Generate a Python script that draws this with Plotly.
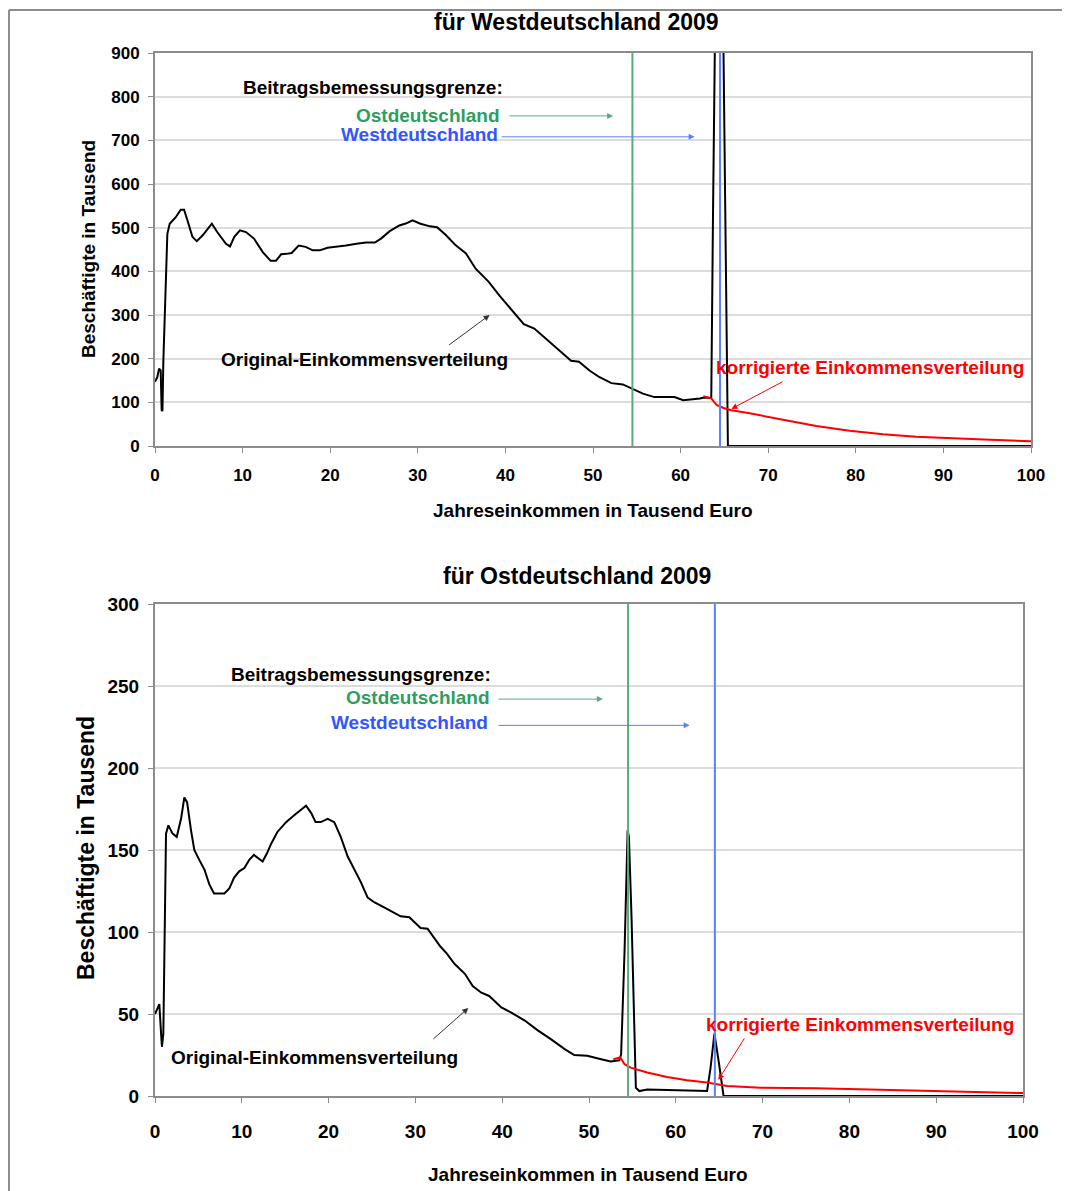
import plotly.graph_objects as go

# Westdeutschland 2009 (Beschäftigte in Tausend, Jahreseinkommen in Tausend Euro)
west_x = [0, 0.27, 0.46, 0.65, 0.76, 0.85, 0.95, 1.07, 1.22, 1.41, 1.68, 2.37, 2.94, 3.32, 3.7, 4.27,
          4.77, 5.42, 6.49, 7.1, 8.1, 8.56, 9.05, 9.7, 10.38, 11.3, 12.3, 13.2, 13.8, 14.4, 15.0, 15.6,
          16.4, 17.2, 18.0, 18.8, 19.7, 20.7, 21.8, 23.0, 24.1, 25.1, 25.8, 26.8, 27.9, 28.7, 29.4,
          30.3, 31.4, 32.2, 33.2, 34.3, 35.5, 36.6, 38.1, 39.3, 40.8, 42.1, 43.3, 44.6, 46.1, 47.5,
          48.4, 49.6, 50.7, 52.1, 53.4, 54.5, 55.7, 57.0, 58.4, 59.3, 60.3, 61.0, 62.2, 62.7, 63.3,
          63.5, 63.7, 63.9, 64.4, 64.9, 65.15, 65.4, 66.3, 100]
west_y = [147, 158, 177, 173, 82, 80, 192, 272, 402, 486, 509, 524, 541, 541, 517, 479,
          469, 482, 509, 490, 463, 457, 479, 494, 490, 475, 444, 424, 424, 439, 440, 442,
          459, 456, 448, 448, 454, 456, 459, 463, 466, 466, 475, 492, 505, 510, 517,
          509, 503, 501, 483, 460, 441, 406, 376, 345, 311, 279, 269, 246, 219, 195,
          193, 173, 158, 144, 141, 131, 120, 112, 111, 112, 105, 106, 109, 111, 109,
          110, 530, 900, 1800, 900, 450, 0, 0, 0]
west_korr_x = [62.6, 63.5, 64.1, 64.9, 65.8, 67.9, 71.7, 75.5, 79.3, 83.1, 86.9, 90.8, 94.6, 100]
west_korr_y = [114, 109, 94, 87, 82, 75, 60, 46, 35, 27, 21, 17.5, 15, 11]

# Ostdeutschland 2009
ost_x = [0, 0.5, 0.7, 0.8, 0.96, 1.07, 1.27, 1.54, 2.03, 2.5, 3.0, 3.38, 3.7, 4.15, 4.53, 5.1,
         5.7, 6.26, 6.8, 8.0, 8.56, 9.1, 9.7, 10.3, 10.86, 11.4, 11.9, 12.4, 12.9, 13.4, 14.1,
         15.1, 16.0, 16.8, 17.4, 18.0, 18.5, 19.1, 19.9, 20.65, 21.4, 22.2, 22.95, 23.7, 24.5,
         25.3, 26.4, 27.4, 28.3, 29.3, 29.9, 30.6, 31.4, 32.2, 32.9, 33.6, 34.5, 35.7, 36.6,
         37.6, 38.5, 39.9, 41.0, 42.6, 44.1, 45.6, 47.2, 48.3, 49.8, 51.4, 52.5, 53.5, 53.7,
         54.1, 54.45, 54.6, 54.9, 55.4, 55.8, 56.7, 59.8, 63.6, 64.0, 64.45, 65.0, 65.5, 66.4, 100]
ost_y = [50, 56, 38, 30, 38, 91, 160, 165, 160, 158, 169, 182, 179, 162, 150, 144,
         138, 129, 123.5, 123.5, 126.5, 133, 137, 139, 144, 147, 145, 143, 148, 154, 161,
         167, 171, 174.5, 177, 172.5, 167, 167, 169, 167, 158, 146, 138, 130.6, 121,
         118, 115, 112, 109.6, 109, 106, 102.4, 102, 96, 91, 87, 80.6, 74.5, 67,
         63, 61, 54, 51, 46, 40, 34.7, 28.6, 25, 24.5, 22.4, 21, 21.8, 25.5,
         89, 162, 158, 109, 5, 3, 4, 3.5, 3, 17, 38, 19, 0, 0, 0]
ost_korr_x = [52.8, 53.6, 54.1, 54.8, 56.7, 59.0, 61.3, 63.6, 65.9, 69.8, 76.2, 83.9, 91.6, 100]
ost_korr_y = [22.4, 23.5, 19.4, 17.3, 14.3, 11.6, 9.6, 8.2, 6.1, 5.1, 4.7, 3.7, 2.6, 1.8]

# Beitragsbemessungsgrenzen 2009 (Tausend Euro)
BBG_OST = 54.5
BBG_WEST = 64.5

x_ticks = list(range(0, 101, 10))
west_y_ticks = list(range(0, 901, 100))
ost_y_ticks = list(range(0, 301, 50))

# page body has an 8px margin, so the figure starts at (8, 8) of the window
OFF = 8
W, H = 1070 - OFF, 1191 - OFF
ARIAL = "Liberation Sans, Arial, sans-serif"
GREEN_TXT, GREEN_LINE = "#2f9d60", "#5aab7b"
BLUE_TXT, BLUE_LINE = "#3355ff", "#5b7fff"
GRID = "#dcdcdc"
FRAME = "#8c8c8c"


def px(x):
    return (x - OFF) / W


def py(y):
    return 1 - (y - OFF) / H


fig = go.Figure()

fig.add_trace(go.Scatter(x=west_x, y=west_y, mode="lines", line=dict(color="black", width=2),
                         xaxis="x", yaxis="y", showlegend=False))
fig.add_trace(go.Scatter(x=west_korr_x, y=west_korr_y, mode="lines", line=dict(color="#ff0000", width=2),
                         xaxis="x", yaxis="y", showlegend=False))
fig.add_trace(go.Scatter(x=ost_x, y=ost_y, mode="lines", line=dict(color="black", width=2),
                         xaxis="x2", yaxis="y2", showlegend=False))
fig.add_trace(go.Scatter(x=ost_korr_x, y=ost_korr_y, mode="lines", line=dict(color="#ff0000", width=2),
                         xaxis="x2", yaxis="y2", showlegend=False))

for xr, yr in (("x", "y domain"), ("x2", "y2 domain")):
    fig.add_shape(type="line", xref=xr, yref=yr, x0=BBG_OST, x1=BBG_OST, y0=0, y1=1,
                  line=dict(color=GREEN_LINE, width=2))
    fig.add_shape(type="line", xref=xr, yref=yr, x0=BBG_WEST, x1=BBG_WEST, y0=0, y1=1,
                  line=dict(color=BLUE_LINE, width=2))

axis_common = dict(showline=True, linecolor=FRAME, linewidth=2, mirror=True, ticks="outside",
                   ticklen=5, tickcolor=FRAME, zeroline=False, automargin=False)
tick_top = dict(family=ARIAL, size=17, color="black", weight="bold")
tick_bot = dict(family=ARIAL, size=19, color="black", weight="bold")

fig.update_layout(
    width=W, height=H, margin=dict(l=0, r=0, t=0, b=0),
    paper_bgcolor="white", plot_bgcolor="white", showlegend=False,
    xaxis=dict(domain=[px(155), px(1031)], range=[0, 100], tickvals=x_ticks, anchor="y",
               showgrid=False, ticklabelstandoff=8, tickfont=tick_top, **axis_common),
    yaxis=dict(domain=[py(446), py(53)], range=[0, 900], tickvals=west_y_ticks, anchor="x",
               showgrid=True, gridcolor=GRID, gridwidth=2, ticklabelstandoff=5,
               tickfont=tick_top, **axis_common),
    xaxis2=dict(domain=[px(155), px(1023)], range=[0, 100], tickvals=x_ticks, anchor="y2",
                showgrid=False, ticklabelstandoff=12, tickfont=tick_bot, **axis_common),
    yaxis2=dict(domain=[py(1096), py(604)], range=[0, 300], tickvals=ost_y_ticks, anchor="x2",
                showgrid=True, gridcolor=GRID, gridwidth=2, ticklabelstandoff=5,
                tickfont=tick_bot, **axis_common),
)


def text(x, y, s, color, size, xanchor, xref="x", yref="y", textangle=0):
    fig.add_annotation(x=x, y=y, xref=xref, yref=yref, text=f"<b>{s}</b>", showarrow=False,
                       xanchor=xanchor, yanchor="middle", textangle=textangle,
                       font=dict(family=ARIAL, size=size, color=color))


def arrow(x0, y0, x1, y1, color, xref="x", yref="y"):
    fig.add_annotation(x=x1, y=y1, ax=x0, ay=y0, xref=xref, yref=yref, axref=xref, ayref=yref,
                       text="", showarrow=True, arrowhead=2, arrowsize=1.2, arrowwidth=1,
                       arrowcolor=color)


# titles and axis titles
text(px(576), py(22), "für Westdeutschland 2009", "black", 23, "center", "paper", "paper")
text(px(577), py(576), "für Ostdeutschland 2009", "black", 23, "center", "paper", "paper")
text(px(593), py(510), "Jahreseinkommen in Tausend Euro", "black", 19, "center", "paper", "paper")
text(px(588), py(1174), "Jahreseinkommen in Tausend Euro", "black", 19, "center", "paper", "paper")
text(px(88), py(249), "Beschäftigte in Tausend", "black", 19, "center", "paper", "paper", -90)
text(px(86), py(848), "Beschäftigte in Tausend", "black", 23, "center", "paper", "paper", -90)

# West annotations
text(40.0, 820, "Beitragsbemessungsgrenze:", "black", 19, "right")
text(39.6, 758, "Ostdeutschland", GREEN_TXT, 19, "right")
arrow(40.3, 756, 52.3, 756, GREEN_LINE)
text(39.4, 714, "Westdeutschland", BLUE_TXT, 19, "right")
arrow(39.4, 708, 61.6, 708, BLUE_LINE)
text(7.3, 197, "Original-Einkommensverteilung", "black", 19, "left")
arrow(33.4, 229, 38.2, 300, "#333333")
text(63.8, 179, "korrigierte Einkommensverteilung", "#ff0000", 19, "left")
arrow(71.8, 149, 65.8, 85, "#ff0000")

# Ost annotations
text(38.9, 257, "Beitragsbemessungsgrenze:", "black", 19, "right", "x2", "y2")
text(38.8, 242.7, "Ostdeutschland", GREEN_TXT, 19, "right", "x2", "y2")
arrow(39.4, 242, 51.6, 242, GREEN_LINE, "x2", "y2")
text(38.6, 228, "Westdeutschland", BLUE_TXT, 19, "right", "x2", "y2")
arrow(39.4, 226, 61.6, 226, BLUE_LINE, "x2", "y2")
text(1.6, 23.2, "Original-Einkommensverteilung", "black", 19, "left", "x2", "y2")
arrow(31.9, 34, 36.1, 53.7, "#333333", "x2", "y2")
text(63.2, 43.3, "korrigierte Einkommensverteilung", "#ff0000", 19, "left", "x2", "y2")
arrow(68.0, 36, 64.9, 9.8, "#ff0000", "x2", "y2")

# outer frame (left and top edge)
fig.add_shape(type="line", xref="paper", yref="paper", x0=px(9), x1=px(9), y0=0, y1=py(10),
              line=dict(color=FRAME, width=2))
fig.add_shape(type="line", xref="paper", yref="paper", x0=px(9), x1=1, y0=py(10), y1=py(10),
              line=dict(color=FRAME, width=2))

fig.write_html("out.html")
